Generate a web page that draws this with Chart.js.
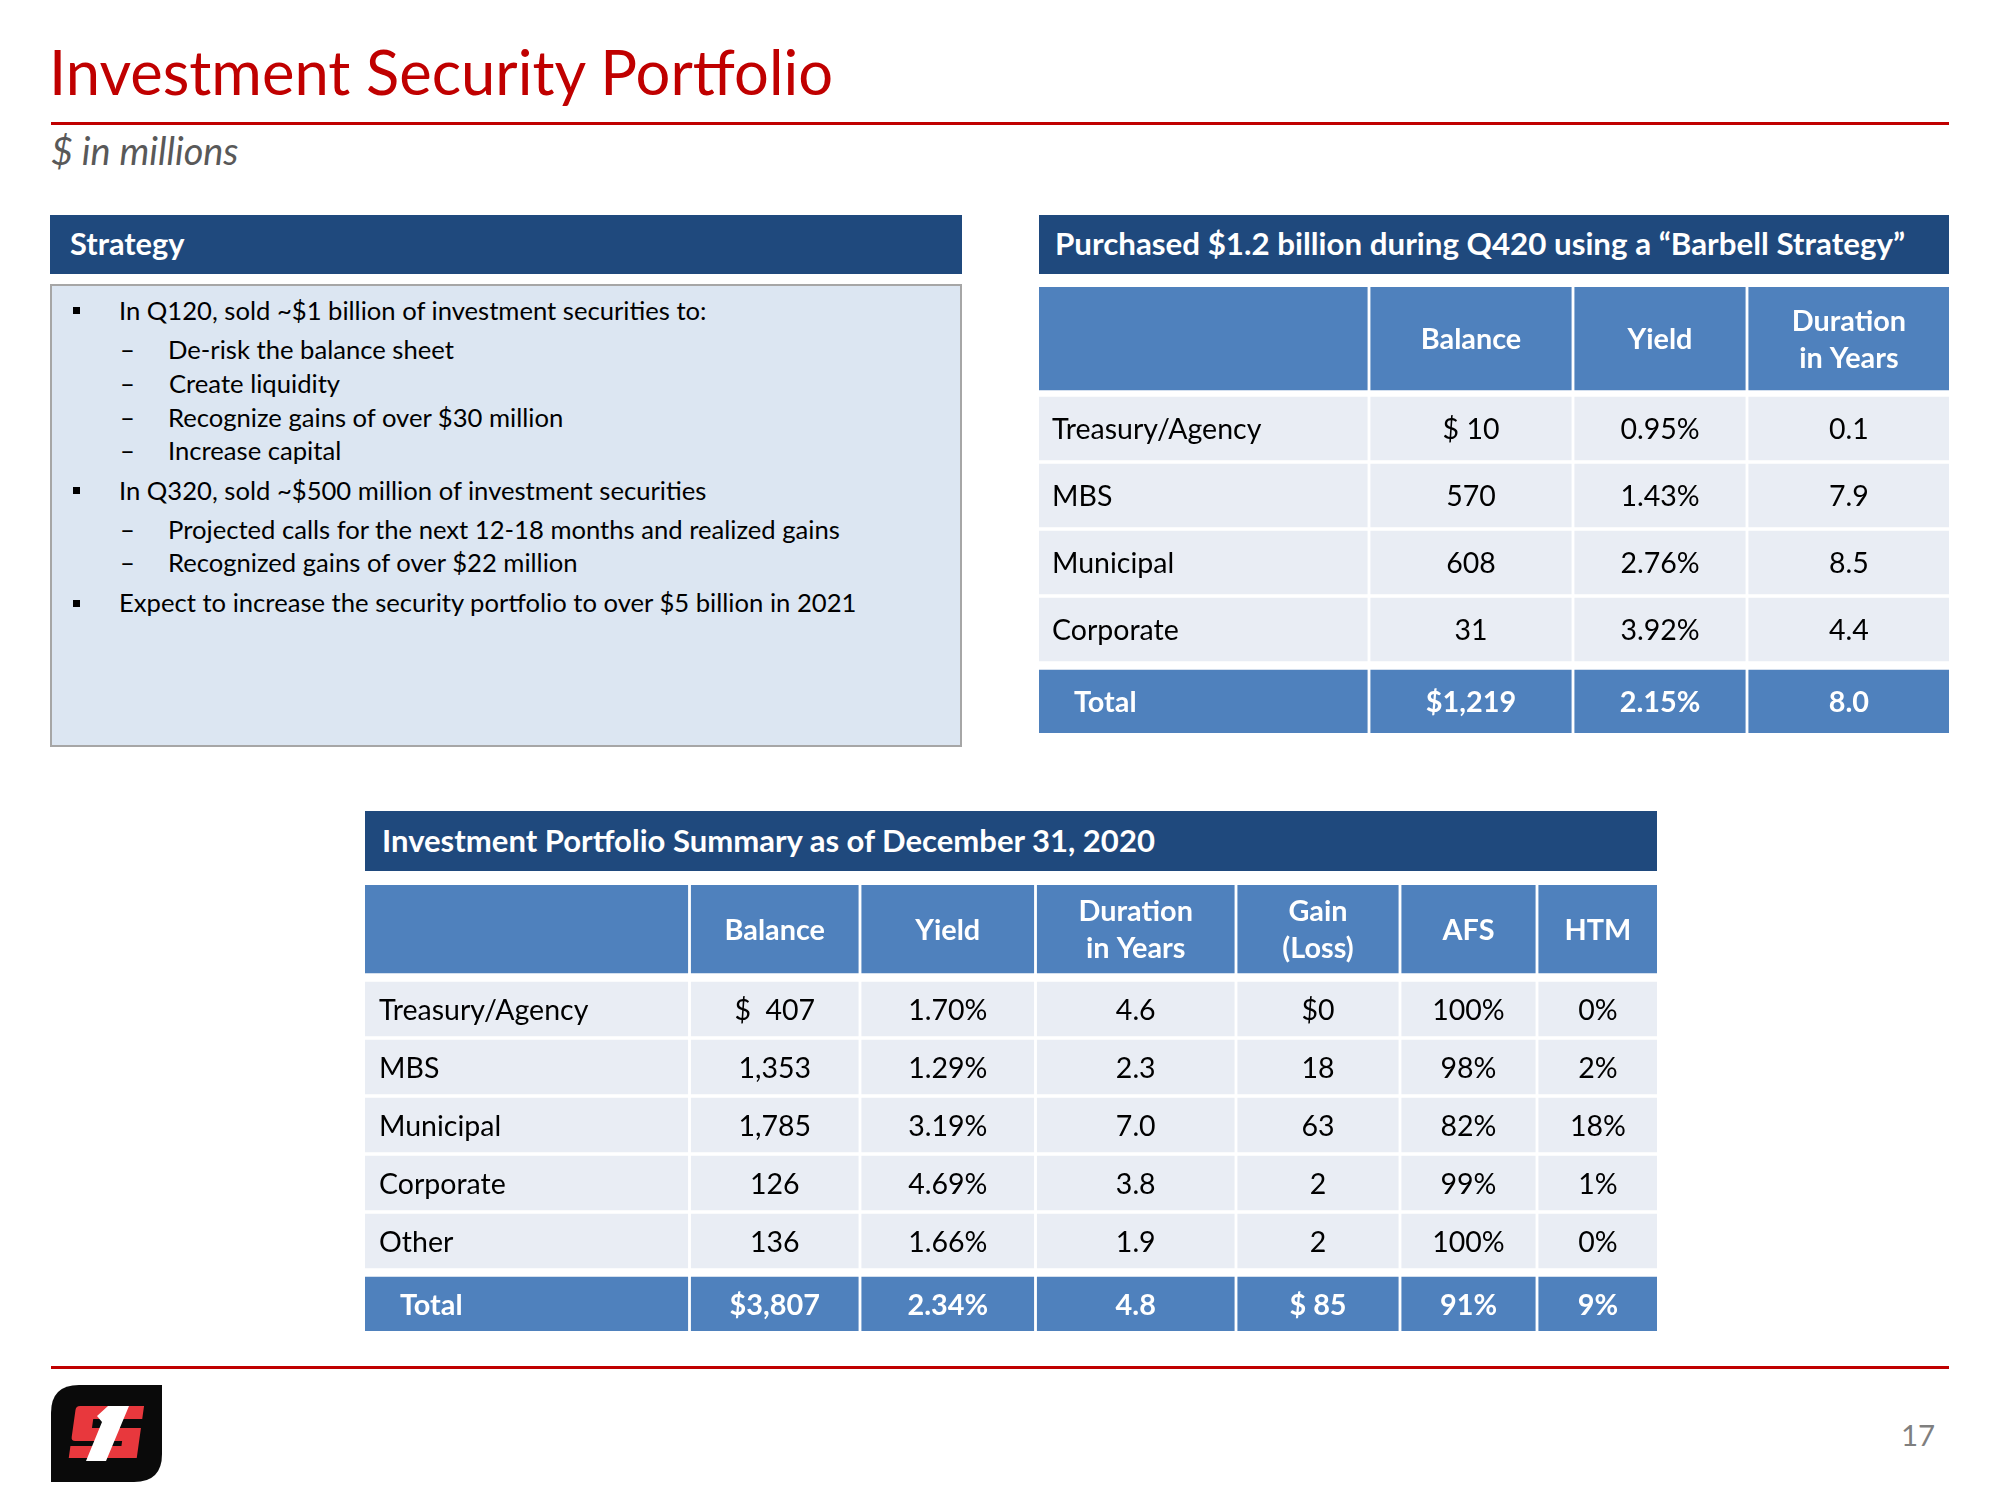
<!DOCTYPE html>
<html>
<head>
<meta charset="utf-8">
<script src="https://cdn.jsdelivr.net/npm/chart.js@4.4.1/dist/chart.umd.min.js"></script>
<style>
  html, body { margin: 0; padding: 0; background: #ffffff; }
  body { width: 2000px; height: 1500px; position: relative; overflow: hidden; font-family: Lato, sans-serif; }
  .box { position: absolute; box-sizing: border-box; }
  .txt { position: absolute; white-space: pre; margin: 0; padding: 0; }
  canvas { position: absolute; }
</style>
</head>
<body>
<div class="box" style="left:51px;top:122px;width:1898px;height:3px;background:#C00000"></div>
<div class="box" style="left:51px;top:1366px;width:1898px;height:3px;background:#C00000"></div>
<div class="box" style="left:50px;top:215px;width:912px;height:59px;background:#1F497D"></div>
<div class="box" style="left:50px;top:284px;width:912px;height:463px;background:#DCE6F2;border:2px solid #A6A6A6"></div>
<div class="box" style="left:1039px;top:215px;width:910px;height:59px;background:#1F497D"></div>
<div class="box" style="left:365px;top:811px;width:1292px;height:60px;background:#1F497D"></div>
<svg style="position:absolute;left:51px;top:1385px" width="111" height="97" viewBox="0 0 111 97">
  <path d="M0,97 L0,28 Q0,0 28,0 L111,0 L111,69 Q111,97 83,97 Z" fill="#0a0a0a"/>
  <g transform="translate(6,0) skewX(-8)">
    <path d="M26,21 L90,21 L90,34 L41,34 L41,43 L90,43 L90,73 L22,73 L22,61 L73,61 L73,56 L26,56 Q22,56 22,52 L22,25 Q22,21 26,21 Z" fill="#E8383D"/>
  </g>
  <polygon points="46,31 57,21 78,21 55,76 35,76 51,37" fill="#ffffff"/>
</svg>
<canvas id="purchaseTable" width="910" height="446" style="left:1039px;top:287px;width:910px;height:446px"></canvas>
<canvas id="summaryTable" width="1292" height="446" style="left:365px;top:885px;width:1292px;height:446px"></canvas>

<script>
// ---------------- data ----------------
const purchaseCategories = ['Treasury/Agency', 'MBS', 'Municipal', 'Corporate'];
const purchaseColumns = [['Balance'], ['Yield'], ['Duration', 'in Years']];
const purchaseBalance = [10, 570, 608, 31];
const purchaseYield = [0.95, 1.43, 2.76, 3.92];
const purchaseDuration = [0.1, 7.9, 8.5, 4.4];
const purchaseTotals = [1219, 2.15, 8.0];

const summaryCategories = ['Treasury/Agency', 'MBS', 'Municipal', 'Corporate', 'Other'];
const summaryColumns = [['Balance'], ['Yield'], ['Duration', 'in Years'], ['Gain', '(Loss)'], ['AFS'], ['HTM']];
const summaryBalance = [407, 1353, 1785, 126, 136];
const summaryYield = [1.70, 1.29, 3.19, 4.69, 1.66];
const summaryDuration = [4.6, 2.3, 7.0, 3.8, 1.9];
const summaryGain = [0, 18, 63, 2, 2];
const summaryAFS = [100, 98, 82, 99, 100];
const summaryHTM = [0, 2, 18, 1, 0];
const summaryTotals = [3807, 2.34, 4.8, 85, 91, 9];

const strategyBullets = [
  [0, 'In Q120, sold ~$1 billion of investment securities to:'],
  [1, 'De-risk the balance sheet'],
  [1, 'Create liquidity'],
  [1, 'Recognize gains of over $30 million'],
  [1, 'Increase capital'],
  [0, 'In Q320, sold ~$500 million of investment securities'],
  [1, 'Projected calls for the next 12-18 months and realized gains'],
  [1, 'Recognized gains of over $22 million'],
  [0, 'Expect to increase the security portfolio to over $5 billion in 2021']
];

// ---------------- styles / layout ----------------
const FONT = 'Lato, sans-serif';
const BLUE = '#4F81BD';
const BODY = '#E9EDF4';
const strategyCenters = [310.5, 350, 384, 418, 451, 490.5, 530, 563, 603];

// ---------------- text helpers ----------------
const meas = document.createElement('canvas').getContext('2d');
function fontSpec(size, weight, style) { return `${style || 'normal'} ${weight || 'normal'} ${size}px ${FONT}`; }
function inkOf(text, size, weight, style) {
  meas.font = fontSpec(size, weight, style);
  const m = meas.measureText(text);
  return { w: m.actualBoundingBoxLeft + m.actualBoundingBoxRight, l: m.actualBoundingBoxLeft,
           asc: m.fontBoundingBoxAscent, desc: m.fontBoundingBoxDescent };
}
function fitSize(text, target, weight, style) { return 100 * target / inkOf(text, 100, weight, style).w; }
function putText(text, o) {
  const k = inkOf(text, o.size, o.weight, o.style);
  const d = document.createElement('div');
  d.className = 'txt';
  d.textContent = text;
  d.style.font = fontSpec(o.size, o.weight, o.style);
  d.style.lineHeight = (k.asc + k.desc) + 'px';
  d.style.left = (o.x + k.l) + 'px';
  d.style.top = (o.base - k.asc) + 'px';
  d.style.color = o.color;
  document.body.appendChild(d);
  return d;
}
function capHeight(size, weight) { meas.font = fontSpec(size, weight); return meas.measureText('H').actualBoundingBoxAscent; }

// slide texts: [text, inkLeft, inkRight, baseline, color, weight, style]
const slideTexts = [
  ['Investment Security Portfolio', 54, 832, 95, '#C00000', 'normal', 'normal'],
  ['$ in millions', 51, 237, 165, '#595959', 'normal', 'italic'],
  ['Strategy', 70, 184, 255, '#FFFFFF', 'bold', 'normal'],
  ['Purchased $1.2 billion during Q420 using a \u201CBarbell Strategy\u201D', 1057, 1904, 255, '#FFFFFF', 'bold', 'normal'],
  ['Investment Portfolio Summary as of December 31, 2020', 384, 1156, 852, '#FFFFFF', 'bold', 'normal'],
  ['17', 1903, 1934, 1446, '#7F7F7F', 'normal', 'normal']
];
slideTexts.forEach(([t, l, r, b, c, w, s]) => {
  putText(t, { x: l, base: b, size: fitSize(t, r - l, w, s), weight: w, style: s, color: c });
});

// strategy bullets
const bulletSize = fitSize(strategyBullets[8][1], 735);
const bulletCap = capHeight(bulletSize);
strategyBullets.forEach(([lvl, t], i) => {
  const mid = strategyCenters[i];
  const base = mid + bulletCap / 2;
  if (lvl === 0) {
    const sq = document.createElement('div');
    sq.className = 'box';
    Object.assign(sq.style, { left: '73px', top: (mid - 3.5) + 'px', width: '7px', height: '7px', background: '#000' });
    document.body.appendChild(sq);
    putText(t, { x: 121, base, size: bulletSize, color: '#000' });
  } else {
    putText('\u2013', { x: 122, base, size: bulletSize, color: '#000' });
    putText(t, { x: 170, base, size: bulletSize, color: '#000' });
  }
});

// ---------------- formatters ----------------
const withCommas = v => String(v).replace(/\B(?=(\d{3})+(?!\d))/g, ',');
const pct2 = v => v.toFixed(2) + '%';
const dec1 = v => v.toFixed(1);
const pct0 = v => v + '%';
const moneyA = (v, row, total) => total ? '$' + withCommas(v) : (row === 0 ? '$ ' + withCommas(v) : withCommas(v));
const moneyB = (v, row, total) => total ? '$' + withCommas(v) : (row === 0 ? '$  ' + withCommas(v) : withCommas(v));
const gainFmt = (v, row, total) => total ? '$ ' + v : (row === 0 ? '$' + v : String(v));

// font calibration against reference ink widths
const REG = fitSize('Treasury/Agency', 209);
const BOLD = fitSize('Balance', 97.5, 'bold');

// ---------------- table plugin ----------------
const cellText = {
  id: 'cellText',
  afterDatasetsDraw(chart, args, opts) {
    const t = opts.table;
    if (!t) return;
    const ctx = chart.ctx;
    const nBody = t.categories.length;
    chart.data.datasets.forEach((ds, r) => {
      const meta = chart.getDatasetMeta(r);
      meta.data.forEach((el, c) => {
        const p = el.getProps(['x', 'y', 'base'], true);
        const left = Math.min(p.x, p.base), right = Math.max(p.x, p.base);
        let lines, bold, color, align = 'center', indent = 0;
        if (r === 0) {
          if (c === 0) return;
          lines = t.columns[c - 1]; bold = true; color = '#FFFFFF';
        } else if (r <= nBody) {
          bold = false; color = '#000000';
          if (c === 0) { lines = [t.categories[r - 1]]; align = 'left'; indent = t.labelIndent; }
          else lines = [t.formats[c - 1](t.series[c - 1][r - 1], r - 1, false)];
        } else {
          bold = true; color = '#FFFFFF';
          if (c === 0) { lines = ['Total']; align = 'left'; indent = t.totalIndent; }
          else lines = [t.formats[c - 1](t.totals[c - 1], -1, true)];
        }
        const size = bold ? BOLD : REG;
        const weight = bold ? 'bold' : 'normal';
        ctx.save();
        ctx.font = fontSpec(size, weight);
        ctx.fillStyle = color;
        ctx.textBaseline = 'alphabetic';
        ctx.textAlign = align;
        const cap = ctx.measureText('H').actualBoundingBoxAscent;
        const tx = align === 'left' ? left + indent : (left + right) / 2;
        lines.forEach((ln, i) => {
          const mid = p.y + (i - (lines.length - 1) / 2) * t.lineStep;
          ctx.fillText(ln, tx, mid + cap / 2);
        });
        ctx.restore();
      });
    });
  }
};

function sum(a) { return a.reduce((s, v) => s + v, 0); }

function makeTable(id, t) {
  const W = sum(t.colWidths);
  const H = sum(t.rowHeights) + sum(t.rowGaps);
  let acc = 0;
  const n = t.colWidths.length;
  const colEdges = t.colWidths.map((w, i) => {
    const a = acc, b = acc + w; acc = b;
    return [a + (i > 0 ? t.colGap / 2 : 0), b - (i < n - 1 ? t.colGap / 2 : 0)];
  });
  let y = 0;
  const rowCenters = t.rowHeights.map((h, i) => { y += t.rowGaps[i]; const c = y + h / 2; y += h; return c; });
  const kinds = ['header'].concat(t.categories.map(() => 'body'), ['total']);
  const datasets = kinds.map((k, r) => ({
    label: k,
    stack: 'cells',
    barThickness: t.rowHeights[r],
    backgroundColor: k === 'body' ? BODY : BLUE,
    borderWidth: 0,
    data: colEdges.map(e => ({ x: [e[0], e[1]], y: rowCenters[r] }))
  }));
  return new Chart(document.getElementById(id), {
    type: 'bar',
    data: { datasets },
    options: {
      indexAxis: 'y',
      responsive: false,
      animation: false,
      devicePixelRatio: 1,
      events: [],
      layout: { padding: 0 },
      plugins: { legend: { display: false }, tooltip: { enabled: false }, cellText: { table: t } },
      scales: {
        x: { type: 'linear', min: 0, max: W, display: false, stacked: false },
        y: { type: 'linear', min: 0, max: H, reverse: true, display: false, offset: false }
      }
    },
    plugins: [cellText]
  });
}

makeTable('purchaseTable', {
  categories: purchaseCategories,
  columns: purchaseColumns,
  series: [purchaseBalance, purchaseYield, purchaseDuration],
  totals: purchaseTotals,
  formats: [moneyA, pct2, dec1],
  colWidths: [330, 204, 174, 202],
  rowHeights: [103, 63, 63, 63, 63, 63],
  rowGaps: [0, 7, 4, 4, 4, 9],
  colGap: 3.5,
  lineStep: 37,
  labelIndent: 13,
  totalIndent: 35
});

makeTable('summaryTable', {
  categories: summaryCategories,
  columns: summaryColumns,
  series: [summaryBalance, summaryYield, summaryDuration, summaryGain, summaryAFS, summaryHTM],
  totals: summaryTotals,
  formats: [moneyB, pct2, dec1, gainFmt, pct0, pct0],
  colWidths: [324.5, 170.5, 175.5, 200.5, 164, 137, 120],
  rowHeights: [88, 54, 54, 54, 54, 54, 54],
  rowGaps: [0, 9, 4, 4, 4, 4, 9],
  colGap: 3.5,
  lineStep: 37,
  labelIndent: 14,
  totalIndent: 35
});
</script>
</body>
</html>
